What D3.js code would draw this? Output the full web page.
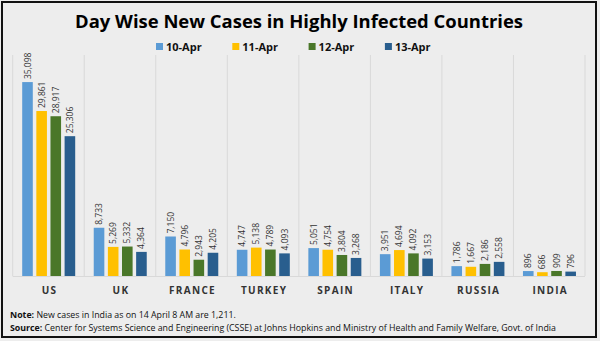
<!DOCTYPE html>
<html>
<head>
<meta charset="utf-8">
<script src="https://cdn.jsdelivr.net/npm/d3@7"></script>
<style>
  html, body { margin: 0; padding: 0; background: #ffffff; }
  svg { display: block; }
</style>
</head>
<body>
<div class="chart"></div>
<script>
var COUNTRIES = ["US", "UK", "FRANCE", "TURKEY", "SPAIN", "ITALY", "RUSSIA", "INDIA"];
var DAYS = ["10-Apr", "11-Apr", "12-Apr", "13-Apr"];
var APR10 = [35098, 8733, 7150, 4747, 5051, 3951, 1786, 896];
var APR11 = [29861, 5269, 4796, 5138, 4754, 4694, 1667, 686];
var APR12 = [28917, 5332, 2943, 4789, 3804, 4092, 2186, 909];
var APR13 = [25306, 4364, 4205, 4093, 3268, 3153, 2558, 796];
var COLOR_TABLE = ["#5B9BD5", "#FFC000", "#4A7729", "#295E8E"];

var WIDTH = 600, HEIGHT = 341;
var FONT = "'Open Sans', 'Liberation Sans', sans-serif";

/* shrink or grow a text's font so it covers the width seen in the picture */
function fitText(sel, width) {
  var size = parseFloat(sel.attr("font-size"));
  var w = sel.node().getComputedTextLength();
  sel.attr("font-size", (size * width / w).toFixed(2));
}

var series = [APR10, APR11, APR12, APR13];

var svg = d3.select("div.chart").append("svg")
  .attr("width", WIDTH)
  .attr("height", HEIGHT);

svg.append("rect")
  .attr("width", WIDTH).attr("height", HEIGHT)
  .attr("fill", "#EDEDED");
svg.append("rect")
  .attr("x", 2).attr("y", 2)
  .attr("width", 594).attr("height", 335)
  .attr("fill", "none")
  .attr("stroke", "#111")
  .attr("stroke-width", 2);

/* title */
var title = svg.append("text")
  .attr("x", 299).attr("y", 28)
  .attr("text-anchor", "middle")
  .attr("font-family", FONT)
  .attr("font-weight", "bold")
  .attr("font-size", 20)
  .attr("fill", "#000")
  .text("Day Wise New Cases in Highly Infected Countries");
fitText(title, 448);

/* legend */
var legend = svg.append("g").selectAll("g")
  .data(DAYS)
  .join("g")
  .attr("transform", function (d, i) { return "translate(" + (156 + i * 76.3) + ",43)"; });
legend.append("rect")
  .attr("width", 7).attr("height", 7)
  .attr("fill", function (d, i) { return COLOR_TABLE[i]; });
legend.append("text")
  .attr("x", 10).attr("y", 7.5)
  .attr("font-family", FONT)
  .attr("font-weight", "bold")
  .attr("font-size", 11)
  .attr("fill", "#111")
  .text(function (d) { return d; });

/* scales */
var plotTop = 55, plotBase = 276;
var x = d3.scaleBand().domain(COUNTRIES).range([12.7, 585]);
var x1 = d3.scaleBand().domain(DAYS).range([9.5, 62.5]).paddingInner(0.25);
var y = d3.scaleLinear().domain([0, 40000]).range([plotBase, plotTop]);

/* category separators */
svg.append("g").selectAll("line")
  .data(COUNTRIES.concat(["end"]))
  .join("line")
  .attr("x1", function (d, i) { return x.range()[0] + i * x.bandwidth(); })
  .attr("x2", function (d, i) { return x.range()[0] + i * x.bandwidth(); })
  .attr("y1", plotTop).attr("y2", plotBase)
  .attr("stroke", "#D9D9D9")
  .attr("stroke-width", 1);
svg.append("line")
  .attr("x1", x.range()[0]).attr("x2", x.range()[1])
  .attr("y1", plotBase + 0.5).attr("y2", plotBase + 0.5)
  .attr("stroke", "#D9D9D9");

/* bars and values */
var groups = svg.append("g").selectAll("g")
  .data(COUNTRIES)
  .join("g")
  .attr("transform", function (d) { return "translate(" + x(d) + ",0)"; });

groups.each(function (country, ci) {
  var g = d3.select(this);
  var rows = series.map(function (s, si) { return { day: DAYS[si], value: s[ci], idx: si }; });
  g.selectAll("rect")
    .data(rows)
    .join("rect")
    .attr("x", function (d) { return x1(d.day); })
    .attr("y", function (d) { return y(d.value); })
    .attr("width", x1.bandwidth())
    .attr("height", function (d) { return plotBase - y(d.value); })
    .attr("fill", function (d) { return COLOR_TABLE[d.idx]; });
  g.selectAll("text")
    .data(rows)
    .join("text")
    .attr("transform", function (d) {
      return "translate(" + (x1(d.day) + x1.bandwidth() / 2 + 3) + "," + (y(d.value) - 3) + ") rotate(-90)";
    })
    .attr("font-family", FONT)
    .attr("font-size", 8.5)
    .attr("fill", "#333")
    .text(function (d) { return d3.format(",")(d.value); });
});

/* category labels */
svg.append("g").selectAll("text")
  .data(COUNTRIES)
  .join("text")
  .attr("x", function (d) { return x(d) + x.bandwidth() / 2 + 1; })
  .attr("y", 294)
  .attr("text-anchor", "middle")
  .attr("font-family", FONT)
  .attr("font-weight", "bold")
  .attr("font-size", 10)
  .attr("letter-spacing", 1.3)
  .attr("fill", "#333")
  .text(function (d) { return d; });

/* notes */
var note = svg.append("text")
  .attr("x", 10).attr("y", 318)
  .attr("font-family", FONT)
  .attr("font-size", 9)
  .attr("fill", "#111");
note.append("tspan").attr("font-weight", "bold").text("Note:");
note.append("tspan").text(" New cases in India as on 14 April 8 AM are 1,211.");
fitText(note, 226);

var source = svg.append("text")
  .attr("x", 10).attr("y", 331)
  .attr("font-family", FONT)
  .attr("font-size", 9)
  .attr("fill", "#111");
source.append("tspan").attr("font-weight", "bold").text("Source:");
source.append("tspan").text(" Center for Systems Science and Engineering (CSSE) at Johns Hopkins and Ministry of Health and Family Welfare, Govt. of India");
fitText(source, 547);
</script>
</body>
</html>
